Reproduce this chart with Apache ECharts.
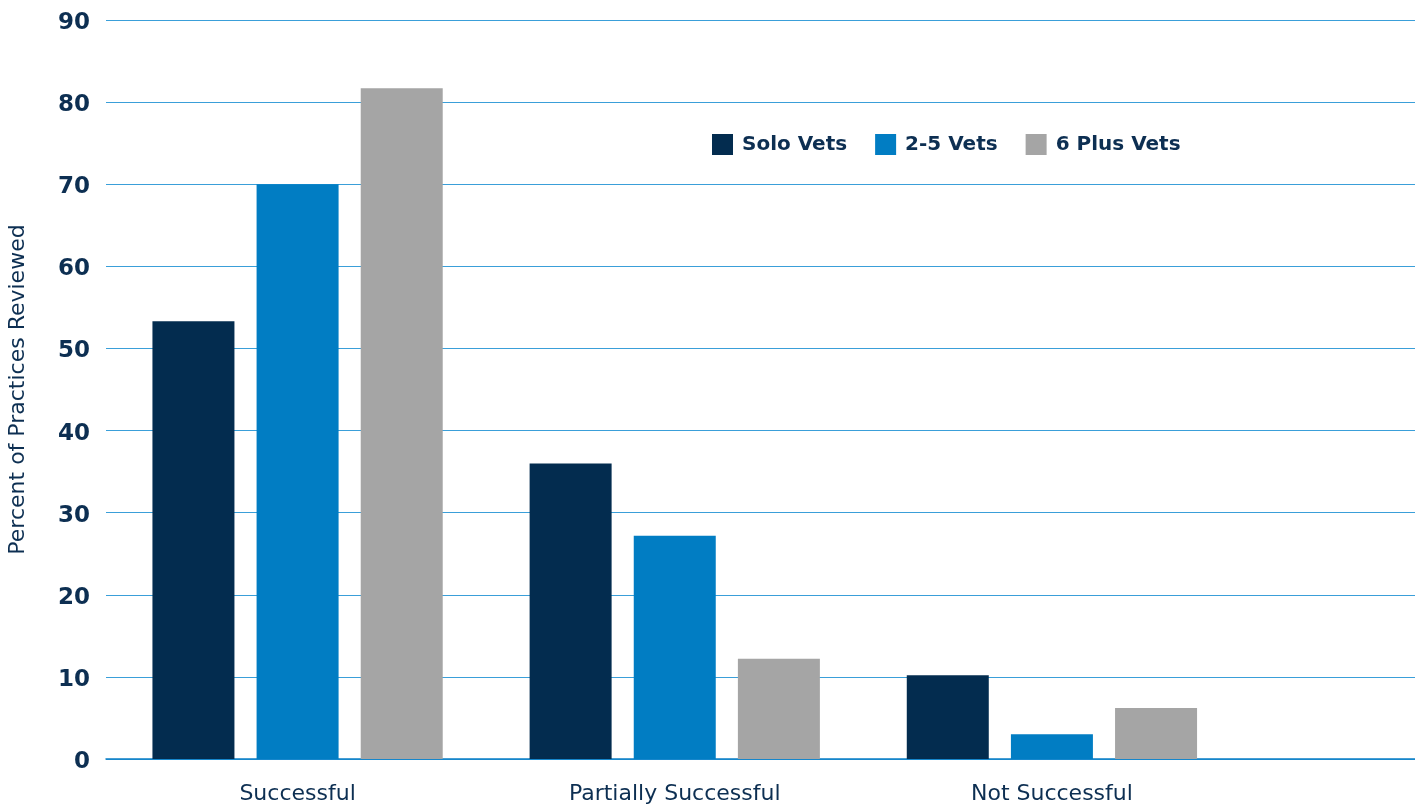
<!DOCTYPE html>
<html>
<head>
<meta charset="utf-8">
<script src="https://cdn.jsdelivr.net/npm/echarts@6/dist/echarts.min.js"></script>
<style>
html, body { margin: 0; padding: 0; background: #fff; }
#chart { width: 1415px; height: 805px; }
</style>
</head>
<body>
<div id="chart"></div>
<script>
// 数据
var categories = ['Successful', 'Partially Successful', 'Not Successful'];
var seriesNames = ['Solo Vets', '2-5 Vets', '6 Plus Vets'];
var soloVets = [53.3, 36, 10.2];
var twoToFive = [70, 27.2, 3];
var sixPlus = [81.7, 12.2, 6.2];
var colors = ['#032c4f', '#017dc3', '#a5a5a5'];

var textColor = '#0d2f52';
var font = '"DejaVu Sans", sans-serif';

var chart = echarts.init(document.getElementById('chart'));

var option = {
    animation: false,
    color: colors,
    legend: {
        data: seriesNames,
        left: 707,
        top: 129,
        itemWidth: 21,
        itemHeight: 21,
        itemGap: 28,
        icon: 'rect',
        textStyle: {
            color: textColor,
            fontSize: 20,
            fontWeight: 'bold',
            fontFamily: font,
            padding: [0, 0, 0, 4]
        }
    },
    // grid 0：网格线和y轴，grid 1：柱子
    grid: [
        {left: 106, right: 0, top: 20, bottom: 46, outerBoundsMode: 'none'},
        {left: 109, right: 174.5, top: 20, bottom: 46, outerBoundsMode: 'none'}
    ],
    xAxis: [
        {
            type: 'value',
            gridIndex: 0,
            min: 0, max: 1,
            axisLine: {show: true, onZero: false, lineStyle: {color: '#0b7fc6', width: 1.5}},
            axisTick: {show: false},
            axisLabel: {show: false},
            splitLine: {show: false}
        },
        {
            type: 'category',
            gridIndex: 1,
            data: categories,
            axisLine: {show: false},
            axisTick: {show: false},
            axisLabel: {
                color: textColor,
                fontSize: 22,
                fontFamily: font,
                margin: 24
            }
        }
    ],
    yAxis: [
        {
            type: 'value',
            gridIndex: 0,
            min: 0, max: 90, interval: 10,
            name: 'Percent of Practices Reviewed',
            nameLocation: 'middle',
            nameGap: 77,
            nameTextStyle: {color: textColor, fontSize: 22, fontFamily: font},
            axisLine: {show: false},
            axisTick: {show: false},
            axisLabel: {
                margin: 16,
                formatter: '{t|{value}}',
                rich: {
                    t: {
                        color: textColor,
                        fontSize: 23,
                        fontWeight: 'bold',
                        fontFamily: font,
                        padding: [6, 0, 0, 0]
                    }
                }
            },
            splitLine: {lineStyle: {color: '#3a9fd9', width: 1.2}}
        },
        {
            type: 'value',
            gridIndex: 1,
            min: 0, max: 90, interval: 10,
            show: false
        }
    ],
    series: [
        {name: seriesNames[0], type: 'bar', xAxisIndex: 1, yAxisIndex: 1, data: soloVets, barWidth: 82, barGap: '27%'},
        {name: seriesNames[1], type: 'bar', xAxisIndex: 1, yAxisIndex: 1, data: twoToFive, barWidth: 82, barGap: '27%'},
        {name: seriesNames[2], type: 'bar', xAxisIndex: 1, yAxisIndex: 1, data: sixPlus, barWidth: 82, barGap: '27%'}
    ]
};

chart.setOption(option);
</script>
</body>
</html>
